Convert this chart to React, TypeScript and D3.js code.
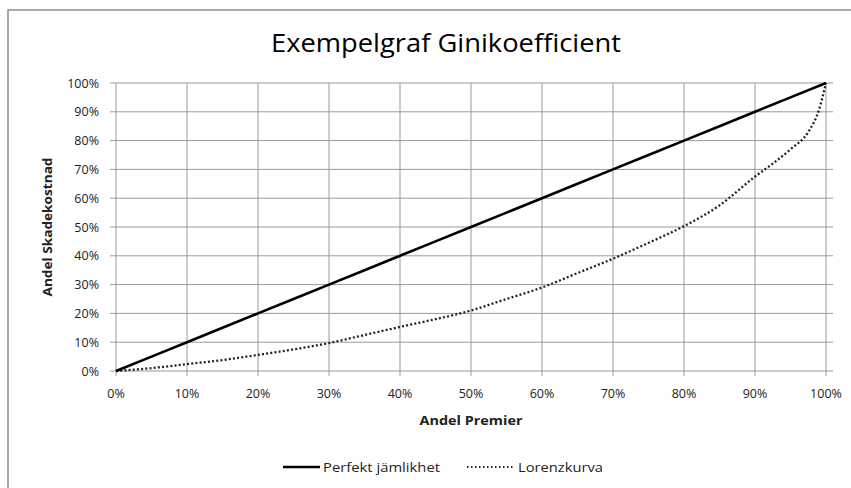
import React from "react";
import * as d3 from "d3";

const equalityX = [0, 0.05, 0.1, 0.15, 0.2, 0.25, 0.3, 0.35, 0.4, 0.45, 0.5, 0.55, 0.6, 0.65, 0.7, 0.75, 0.8, 0.85, 0.9, 0.95, 1];
const equalityY = [0, 0.05, 0.1, 0.15, 0.2, 0.25, 0.3, 0.35, 0.4, 0.45, 0.5, 0.55, 0.6, 0.65, 0.7, 0.75, 0.8, 0.85, 0.9, 0.95, 1];
const lorenzX = [0, 0.05, 0.1, 0.15, 0.2, 0.25, 0.3, 0.35, 0.4, 0.45, 0.5, 0.55, 0.6, 0.65, 0.7, 0.75, 0.8, 0.85, 0.9, 0.925, 0.95, 0.975, 0.99, 1];
const lorenzY = [0, 0.01, 0.024, 0.038, 0.056, 0.075, 0.097, 0.125, 0.153, 0.18, 0.21, 0.25, 0.29, 0.34, 0.39, 0.445, 0.503, 0.575, 0.675, 0.72, 0.77, 0.83, 0.906, 1];
const tickValues = [0, 0.1, 0.2, 0.3, 0.4, 0.5, 0.6, 0.7, 0.8, 0.9, 1];
const title = "Exempelgraf Ginikoefficient";
const xTitle = "Andel Premier";
const yTitle = "Andel Skadekostnad";
const seriesNames = ["Perfekt jämlikhet", "Lorenzkurva"];

export default function App() {
  const W = 851, H = 488;
  const x = d3.scaleLinear().domain([0, 1]).range([116, 826]);
  const y = d3.scaleLinear().domain([0, 1]).range([371, 83]);
  const fmt = d3.format(".0%");
  const font = "'Open Sans', 'Liberation Sans', sans-serif";
  const line = d3.line<[number, number]>().x(d => x(d[0])).y(d => y(d[1]));
  const eq = line(equalityX.map((v, i) => [v, equalityY[i]] as [number, number])) || "";
  const lz = line.curve(d3.curveMonotoneX)(lorenzX.map((v, i) => [v, lorenzY[i]] as [number, number])) || "";
  const grid = "#9a9a9a";
  return (
    <svg width={W} height={H} style={{ position: "absolute", left: 0, top: 0, background: "#fff" }}>
      <rect x={8} y={10} width={900} height={600} fill="#fff" stroke="#8c8c8c" strokeWidth={1.5} />
      <text x={446} y={52} textAnchor="middle" fontFamily={font} fontSize={25} fill="#000" textLength={350} lengthAdjust="spacingAndGlyphs">{title}</text>
      {tickValues.map(t => (
        <line key={"h" + t} x1={110} x2={x(1) + 7} y1={y(t)} y2={y(t)} stroke={grid} strokeWidth={1} />
      ))}
      {tickValues.map(t => (
        <line key={"v" + t} x1={x(t)} x2={x(t)} y1={y(1)} y2={y(0) + 5} stroke={grid} strokeWidth={1} />
      ))}
      {tickValues.map(t => (
        <text key={"yl" + t} x={99} y={y(t) + 4.5} textAnchor="end" fontFamily={font} fontSize={12.5} fill="#222">{fmt(t)}</text>
      ))}
      {tickValues.map(t => (
        <text key={"xl" + t} x={x(t)} y={398} textAnchor="middle" fontFamily={font} fontSize={12.5} fill="#222">{fmt(t)}</text>
      ))}
      <text x={x(0.5)} y={425} textAnchor="middle" fontFamily={font} fontSize={13} fontWeight="bold" fill="#222" textLength={103} lengthAdjust="spacingAndGlyphs">{xTitle}</text>
      <text transform={`translate(52,${y(0.5)}) rotate(-90)`} textAnchor="middle" fontFamily={font} fontSize={13} fontWeight="bold" fill="#222" textLength={139} lengthAdjust="spacingAndGlyphs">{yTitle}</text>
      <path d={lz} fill="none" stroke="#222" strokeWidth={2.3} strokeDasharray="2,2.2" />
      <path d={eq} fill="none" stroke="#000" strokeWidth={2.6} />
      <line x1={283} x2={320} y1={467} y2={467} stroke="#000" strokeWidth={2.5} />
      <text x={323} y={471.5} fontFamily={font} fontSize={12} fill="#222" textLength={117} lengthAdjust="spacingAndGlyphs">{seriesNames[0]}</text>
      <line x1={467} x2={515} y1={467} y2={467} stroke="#222" strokeWidth={2} strokeDasharray="1.5,2.5" />
      <text x={518} y={471.5} fontFamily={font} fontSize={12} fill="#222" textLength={85} lengthAdjust="spacingAndGlyphs">{seriesNames[1]}</text>
    </svg>
  );
}
